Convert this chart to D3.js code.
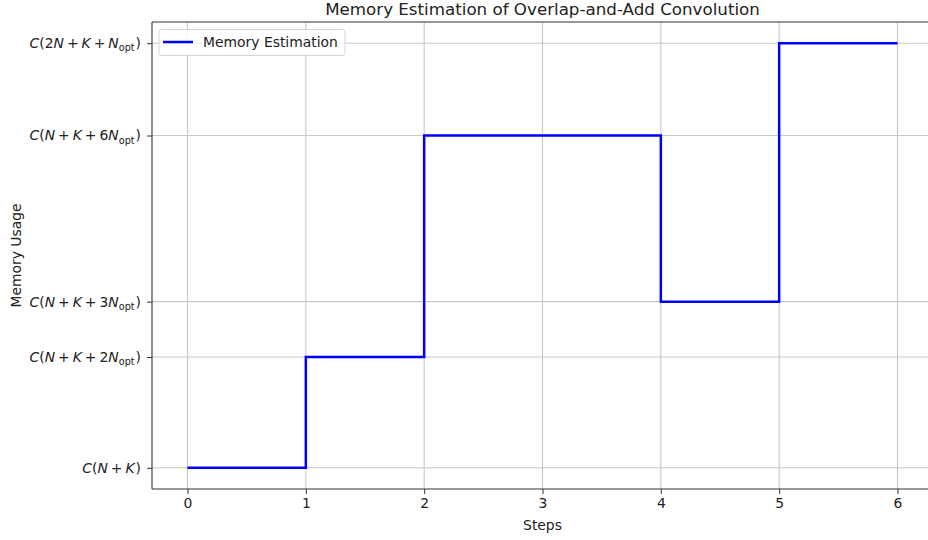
<!DOCTYPE html>
<html><head><meta charset="utf-8">
<script src="https://cdn.jsdelivr.net/npm/d3@7"></script>
<style>
html,body{margin:0;padding:0;background:#fff;}
svg{display:block;font-family:"DejaVu Sans",sans-serif;}
</style></head>
<body><svg id="chart" width="928" height="540"></svg>
<script>
// ---- data ----
const steps = [0, 1, 2, 3, 4, 5, 6];
const memory = [30, 36, 48, 48, 39, 53, 53]; // N=20, K=10, Nopt=3
const xTicks = [0, 1, 2, 3, 4, 5, 6];
const yTickValues = [30, 36, 39, 48, 53];
const yTickLabels = ["C(N+K)", "C(N+K+2N_opt)", "C(N+K+3N_opt)", "C(N+K+6N_opt)", "C(2N+K+N_opt)"];
const seriesName = "Memory Estimation";
const title = "Memory Estimation of Overlap-and-Add Convolution";
const xLabel = "Steps";
const yLabel = "Memory Usage";

// ---- layout ----
const W = 928, H = 540;
const FS = 13.9;
const m = {left: 152, top: 22, right: 933, bottom: 489};
const svg = d3.select("#chart");

const x = d3.scaleLinear().domain([-0.3, 6.3]).range([m.left, m.right]);
const yMin = d3.min(memory), yMax = d3.max(memory), pad = (yMax - yMin) * 0.05;
const y = d3.scaleLinear().domain([yMin - pad, yMax + pad]).range([m.bottom, m.top]);

svg.append("defs").append("clipPath").attr("id", "plotclip")
  .append("rect").attr("x", m.left).attr("y", m.top).attr("width", m.right - m.left).attr("height", m.bottom - m.top);

// grid
const grid = svg.append("g").attr("clip-path", "url(#plotclip)");
grid.selectAll("line.vx").data(xTicks).join("line")
  .attr("x1", d => x(d)).attr("x2", d => x(d)).attr("y1", m.top).attr("y2", m.bottom)
  .attr("stroke", "#c8c8c8").attr("stroke-width", 1.1);
grid.selectAll("line.hy").data(yTickValues).join("line")
  .attr("y1", d => y(d)).attr("y2", d => y(d)).attr("x1", m.left).attr("x2", m.right)
  .attr("stroke", "#c8c8c8").attr("stroke-width", 1.1);

// step line
const line = d3.line().x(d => x(d[0])).y(d => y(d[1])).curve(d3.curveStepAfter);
svg.append("path").datum(steps.map((s, i) => [s, memory[i]]))
  .attr("d", line).attr("fill", "none").attr("stroke", "#0000ff").attr("stroke-width", 2.5)
  .attr("clip-path", "url(#plotclip)");

// spines
const sp = svg.append("g").attr("stroke", "#333").attr("stroke-width", 1.1);
sp.append("line").attr("x1", m.left).attr("x2", m.left).attr("y1", m.top).attr("y2", m.bottom);
sp.append("line").attr("x1", m.left).attr("x2", W).attr("y1", m.bottom).attr("y2", m.bottom);
sp.append("line").attr("x1", m.left).attr("x2", W).attr("y1", m.top).attr("y2", m.top);

// x axis
const xAxis = d3.axisBottom(x).tickValues(xTicks).tickSize(5).tickPadding(4).tickFormat(d3.format("d"));
const gx = svg.append("g").attr("transform", `translate(0,${m.bottom})`).call(xAxis);
gx.select(".domain").remove();
gx.selectAll(".tick line").attr("stroke", "#333");
gx.selectAll(".tick text").attr("font-size", FS).attr("font-family", "DejaVu Sans").attr("fill", "#222");

// y axis with math labels
const yAxis = d3.axisLeft(y).tickValues(yTickValues).tickSize(5).tickPadding(6).tickFormat("");
const gy = svg.append("g").attr("transform", `translate(${m.left},0)`).call(yAxis);
gy.select(".domain").remove();
gy.selectAll(".tick line").attr("stroke", "#333");
gy.selectAll(".tick").each(function(d, i) {
  const t = d3.select(this).select("text").text(null)
    .attr("font-size", FS).attr("fill", "#222").attr("font-family", "DejaVu Sans")
    .attr("text-anchor", "end").attr("dy", "0.32em").attr("x", -11);
  renderMath(t, yTickLabels[i]);
});

function renderMath(t, s) {
  const tokens = [];
  let k = 0;
  while (k < s.length) {
    if (s.startsWith("_opt", k)) { tokens.push({sub: "opt"}); k += 4; continue; }
    tokens.push({c: s[k]}); k++;
  }
  let pendingDy = 0, prev = null;
  tokens.forEach(tok => {
    if (tok.sub) {
      t.append("tspan").text(tok.sub).attr("font-size", 9.7).attr("dy", 3.2);
      pendingDy = -3.2; prev = "sub";
      return;
    }
    const c = tok.c;
    const ts = t.append("tspan").text(c);
    if (pendingDy) { ts.attr("dy", pendingDy); pendingDy = 0; }
    if (/[A-Za-z]/.test(c)) ts.attr("font-style", "italic");
    if (c === "+" || prev === "+") ts.attr("dx", 3);
    if (c === ")") ts.attr("dx", 1);
    prev = c;
  });
}

// title & labels
svg.append("text").attr("x", (m.left + m.right) / 2).attr("y", 15).attr("text-anchor", "middle")
  .attr("font-size", 16.7).attr("fill", "#222").text(title);
svg.append("text").attr("x", (m.left + m.right) / 2).attr("y", 530).attr("text-anchor", "middle")
  .attr("font-size", FS).attr("fill", "#222").text(xLabel);
svg.append("text").attr("transform", `translate(21,${(m.top + m.bottom) / 2}) rotate(-90)`)
  .attr("text-anchor", "middle").attr("font-size", FS).attr("fill", "#222").text(yLabel);

// legend
const lg = svg.append("g");
lg.append("rect").attr("x", 159).attr("y", 29.5).attr("width", 186).attr("height", 26).attr("rx", 3)
  .attr("fill", "#fff").attr("fill-opacity", 0.8).attr("stroke", "#d5d5d5");
lg.append("line").attr("x1", 163).attr("x2", 193).attr("y1", 42).attr("y2", 42)
  .attr("stroke", "#0000ff").attr("stroke-width", 2.5);
lg.append("text").attr("x", 203).attr("y", 42).attr("dy", "0.35em").attr("font-size", FS)
  .attr("fill", "#222").text(seriesName);
</script></body></html>
